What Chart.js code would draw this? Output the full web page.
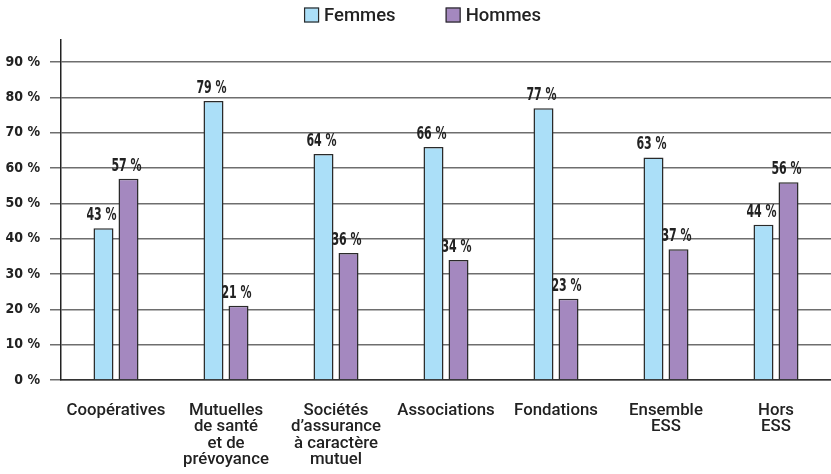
<!DOCTYPE html>
<html>
<head>
<meta charset="utf-8">
<script src="https://cdn.jsdelivr.net/npm/chart.js@4.4.1/dist/chart.umd.min.js"></script>
<style>
  html, body { margin: 0; padding: 0; background: #fff; }
  #wrap { width: 831px; height: 474px; position: relative; }
</style>
</head>
<body>
<div id="wrap"><canvas id="chart"></canvas></div>
<script>
// Data
const categories = [
  "Coopératives",
  ["Mutuelles", "de santé", "et de", "prévoyance"],
  ["Sociétés", "d’assurance", "à caractère", "mutuel"],
  "Associations",
  "Fondations",
  ["Ensemble", "ESS"],
  ["Hors", "ESS"],
];
const femmes = [43, 79, 64, 66, 77, 63, 44];
const hommes = [57, 21, 36, 34, 23, 37, 56];
const seriesNames = ["Femmes", "Hommes"];
const yTicks = [0, 10, 20, 30, 40, 50, 60, 70, 80, 90];

const COLORS = { femmes: "#abdff8", hommes: "#a488bf", border: "#2a2a2a" };

// value labels above each bar, in a narrow condensed face
const valueLabels = {
  id: "valueLabels",
  afterDatasetsDraw(chart) {
    const ctx = chart.ctx;
    ctx.save();
    ctx.fillStyle = "#222";
    ctx.font = "bold 17px 'DejaVu Sans Condensed', 'DejaVu Sans'";
    ctx.textAlign = "center";
    ctx.textBaseline = "bottom";
    chart.data.datasets.forEach((ds, i) => {
      const meta = chart.getDatasetMeta(i);
      meta.data.forEach((bar, j) => {
        ctx.save();
        ctx.translate(bar.x - 2, bar.y - 4);
        ctx.scale(0.72, 1);
        ctx.fillText(ds.data[j] + " %", 0, 0);
        ctx.restore();
      });
    });
    ctx.restore();
  },
};

// legend drawn at the top, items spaced wide apart
const topLegend = {
  id: "topLegend",
  afterDraw(chart) {
    const ctx = chart.ctx;
    ctx.save();
    ctx.font = "500 18.5px Roboto";
    ctx.textBaseline = "middle";
    const box = 15, gapText = 5, gapItem = 50;
    const items = chart.data.datasets.map((ds) => ({
      label: ds.label,
      color: ds.backgroundColor,
      w: ctx.measureText(ds.label).width,
    }));
    let total = 0;
    items.forEach((it, i) => {
      total += box + gapText + it.w + (i < items.length - 1 ? gapItem : 0);
    });
    let x = chart.width / 2 + 7 - total / 2;
    const y = 15;
    items.forEach((it) => {
      ctx.fillStyle = it.color;
      ctx.fillRect(x, y - box / 2, box, box);
      ctx.strokeStyle = COLORS.border;
      ctx.lineWidth = 1.2;
      ctx.strokeRect(x + 0.5, y - box / 2 + 0.5, box - 1, box - 1);
      ctx.fillStyle = "#222";
      ctx.fillText(it.label, x + box + gapText, y + 1);
      x += box + gapText + it.w + gapItem;
    });
    ctx.restore();
  },
};

new Chart(document.getElementById("chart"), {
  type: "bar",
  data: {
    labels: categories,
    datasets: [
      {
        label: seriesNames[0],
        data: femmes,
        backgroundColor: COLORS.femmes,
        borderColor: COLORS.border,
        borderWidth: 1.5,
      },
      {
        label: seriesNames[1],
        data: hommes,
        backgroundColor: COLORS.hommes,
        borderColor: COLORS.border,
        borderWidth: 1.5,
      },
    ],
  },
  options: {
    responsive: true,
    maintainAspectRatio: false,
    animation: false,
    layout: { padding: { top: 40, right: 0, left: 0, bottom: 0 } },
    datasets: {
      bar: { categoryPercentage: 0.455, barPercentage: 0.8 },
    },
    plugins: {
      legend: { display: false },
      tooltip: { enabled: false },
    },
    scales: {
      x: {
        grid: { display: false },
        border: { display: true, color: "#333", width: 1.5 },
        ticks: {
          color: "#222",
          font: { family: "Roboto", size: 16.8, weight: "500", lineHeight: 0.99 },
          padding: 14,
          maxRotation: 0,
          autoSkip: false,
        },
        afterFit: (scale) => { scale.height = 94; },
      },
      y: {
        min: 0,
        max: 96.3,
        afterBuildTicks: (scale) => {
          scale.ticks = yTicks.map((v) => ({ value: v }));
        },
        grid: {
          color: "#6e6e6e",
          lineWidth: 1.5,
          tickLength: 11,
          drawTicks: true,
        },
        border: { display: true, color: "#222", width: 1.5 },
        ticks: {
          color: "#222",
          padding: 10,
          font: { family: "'DejaVu Sans Condensed', 'DejaVu Sans'", size: 14, weight: "bold" },
          callback: (v) => v + " %",
        },
        afterFit: (scale) => { scale.width = 61; },
      },
    },
  },
  plugins: [valueLabels, topLegend],
});
</script>
</body>
</html>
